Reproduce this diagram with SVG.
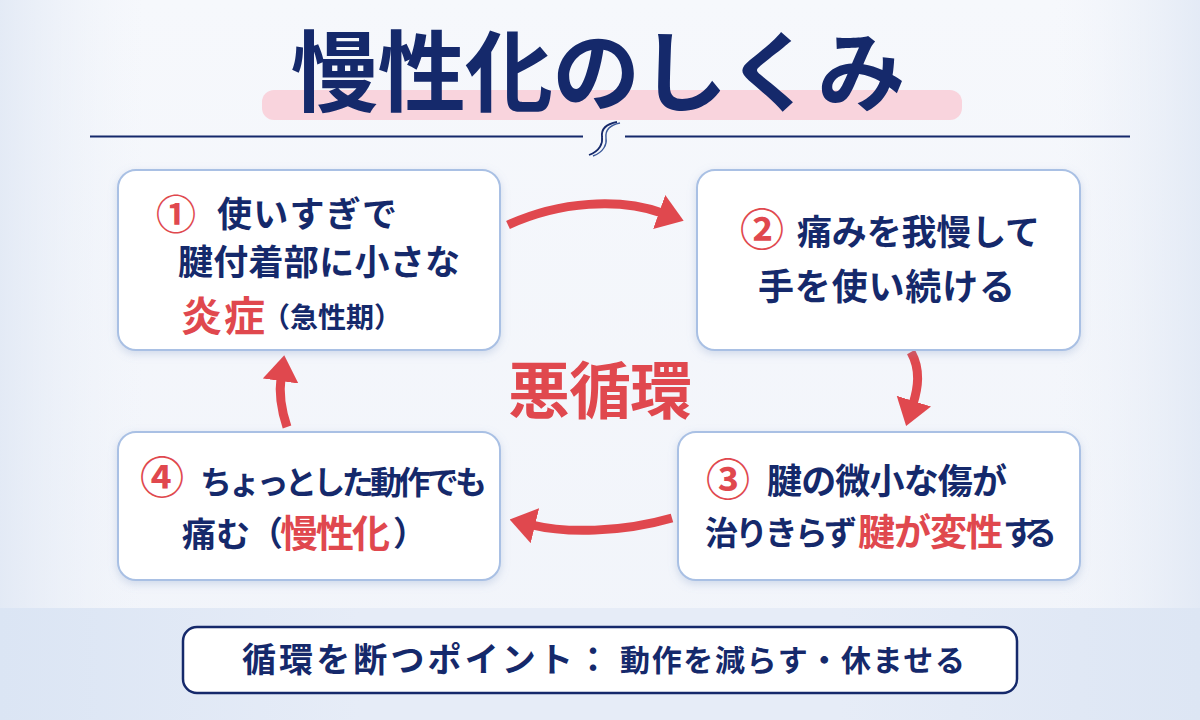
<svg xmlns="http://www.w3.org/2000/svg" width="1200" height="720" viewBox="0 0 1200 720">
<style>
.t{font-family:"Noto Sans CJK JP","Noto Sans CJK SC",sans-serif;font-weight:700;}
.navy{fill:#15296b;}
.red{fill:#e0484e;}
.box{fill:#ffffff;stroke:#a9c0e4;stroke-width:2;}
.arr{fill:none;stroke:#e0484e;stroke-width:9;stroke-linecap:butt;}
.num{font-family:"Noto Sans CJK JP",sans-serif;font-weight:700;fill:#e0484e;text-anchor:middle;}
</style>
<defs>
<linearGradient id="bg" x1="0" y1="0" x2="0" y2="1">
<stop offset="0" stop-color="#f6f8fc"/>
<stop offset="1" stop-color="#f1f4fa"/>
</linearGradient>
<linearGradient id="band" x1="0" y1="0" x2="1" y2="0">
<stop offset="0" stop-color="#dbe5f4"/>
<stop offset="0.3" stop-color="#e6ecf7"/>
<stop offset="0.7" stop-color="#e6ecf7"/>
<stop offset="1" stop-color="#dde6f4"/>
</linearGradient>
<linearGradient id="side" x1="0" y1="0" x2="1" y2="0">
<stop offset="0" stop-color="#dfe7f4" stop-opacity="0.8"/>
<stop offset="0.12" stop-color="#eef2f9" stop-opacity="0"/>
<stop offset="0.88" stop-color="#eef2f9" stop-opacity="0"/>
<stop offset="1" stop-color="#dfe7f4" stop-opacity="0.8"/>
</linearGradient>
<filter id="sh" x="-10%" y="-10%" width="120%" height="130%">
<feDropShadow dx="0" dy="3" stdDeviation="4" flood-color="#7f98c4" flood-opacity="0.3"/>
</filter>
<marker id="head" viewBox="0 0 26 36" refX="3" refY="18" markerWidth="26" markerHeight="36" markerUnits="userSpaceOnUse" orient="auto">
<path d="M0,0 L26,18 L0,36 Z" fill="#e0484e"/>
</marker>
</defs>

<rect x="0" y="0" width="1200" height="720" fill="url(#bg)"/>
<rect x="0" y="0" width="1200" height="608" fill="url(#side)"/>
<rect x="0" y="608" width="1200" height="112" fill="url(#band)"/>

<g id="title">
<rect x="262" y="90" width="700" height="30" rx="12" fill="#f9d4dd"/>
<text class="t navy" x="598" y="104" font-size="88" font-weight="900" text-anchor="middle" textLength="615">慢性化のしくみ</text>
<line x1="90" y1="136.5" x2="583" y2="136.5" stroke="#15296b" stroke-width="2"/>
<line x1="625" y1="136.5" x2="1130" y2="136.5" stroke="#15296b" stroke-width="2"/>
<path d="M589,155 C600,151 603,143 602,137 C601,129 606,124 617,122" fill="none" stroke="#15296b" stroke-width="1.8"/>
<path d="M593,156 C604,152 607,144 606,138 C605,130 610,125 620,123" fill="none" stroke="#3c5a9a" stroke-width="1.4"/>
</g>

<g id="connectors">
<path class="arr" d="M508,225 C560,201 620,198 662,213" marker-end="url(#head)"/>
<path class="arr" d="M911,352 C921,370 918,388 913,404" marker-end="url(#head)"/>
<path class="arr" d="M672,518 C620,533 565,533 532,525" marker-end="url(#head)"/>
<path class="arr" d="M287,427 C280,406 279,392 281,378" marker-end="url(#head)"/>
</g>

<g id="node1">
<rect class="box" x="118" y="170" width="382" height="180" rx="18" filter="url(#sh)"/>
<text class="num" x="176" y="229" font-size="40">①</text>
<text class="t navy" x="217" y="227" font-size="35" textLength="180">使いすぎで</text>
<text class="t navy" x="178" y="275" font-size="35" textLength="282">腱付着部に小さな</text>
<text class="t red" x="181" y="331" font-size="41" textLength="84">炎症</text>
<text class="t navy" x="262" y="328" font-size="28" textLength="140">（急性期）</text>
</g>

<g id="node2">
<rect class="box" x="697" y="170" width="383" height="180" rx="18" filter="url(#sh)"/>
<text class="num" x="762" y="246" font-size="44">②</text>
<text class="t navy" x="797" y="245" font-size="35" textLength="243">痛みを我慢して</text>
<text class="t navy" x="758" y="300" font-size="36" textLength="257">手を使い続ける</text>
</g>

<g id="node3">
<rect class="box" x="678" y="432" width="402" height="148" rx="18" filter="url(#sh)"/>
<text class="num" x="728" y="496" font-size="44">③</text>
<text class="t navy" x="767" y="494" font-size="35" textLength="240">腱の微小な傷が</text>
<text class="t navy" x="705" y="545" font-size="33" textLength="152">治りきらず</text>
<text class="t red" x="858" y="546" font-size="37" textLength="145">腱が変性</text>
<text class="t navy" x="1003" y="545" font-size="33" textLength="54">する</text>
</g>

<g id="node4">
<rect class="box" x="118" y="432" width="382" height="148" rx="18" filter="url(#sh)"/>
<text class="num" x="162" y="494" font-size="44">④</text>
<text class="t navy" x="200" y="494" font-size="32" textLength="287">ちょっとした動作でも</text>
<text class="t navy" x="182" y="547" font-size="34" textLength="68">痛む</text>
<text class="t navy" x="249" y="546" font-size="34">（</text>
<text class="t red" x="280" y="547" font-size="38" textLength="110">慢性化</text>
<text class="t navy" x="393" y="546" font-size="34">）</text>
</g>

<g id="center-label">
<text class="t red" x="508" y="414" font-size="62" textLength="184">悪循環</text>
</g>

<g id="tip">
<rect x="183" y="627" width="834" height="66" rx="14" fill="#ffffff" stroke="#15296b" stroke-width="2.5"/>
<text class="t navy" x="242" y="672" font-size="34" textLength="368">循環を断つポイント：</text>
<text class="t navy" x="620" y="671" font-size="30" textLength="345">動作を減らす・休ませる</text>
</g>
</svg>
